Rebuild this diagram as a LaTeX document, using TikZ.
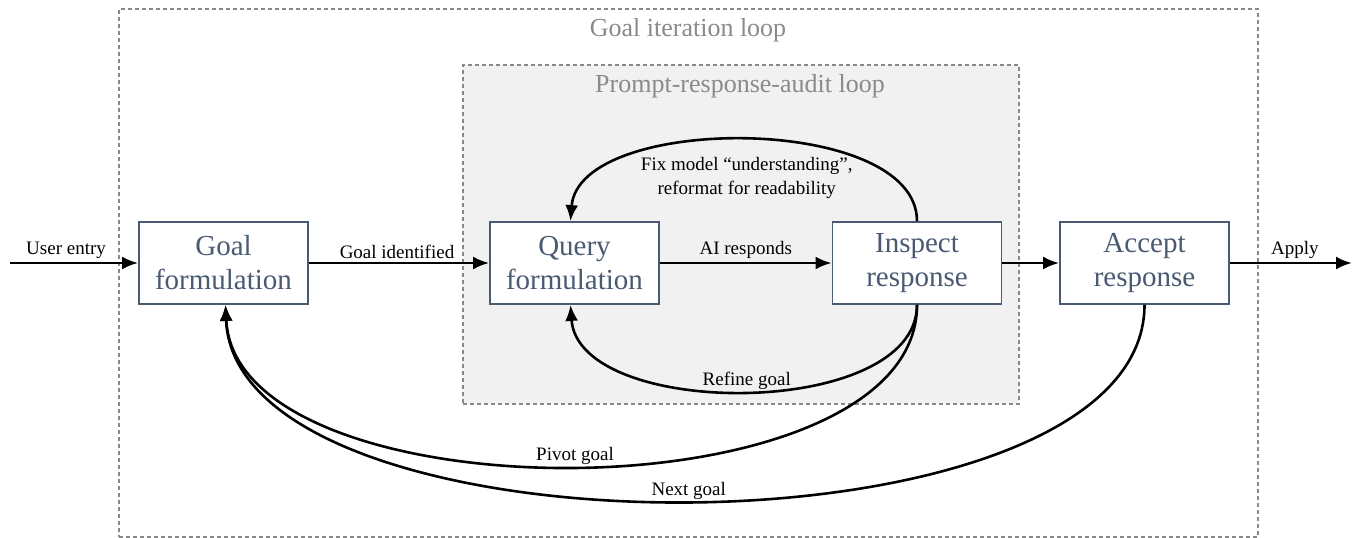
\documentclass[tikz,border=0pt]{standalone}
\usepackage{fontspec}
\setmainfont{Liberation Serif}
\usetikzlibrary{arrows.meta}
\definecolor{nodeblue}{HTML}{4A5A73}
\definecolor{titlegray}{HTML}{8A8A8A}
\definecolor{dashgray}{HTML}{888888}
\definecolor{innerfill}{HTML}{F1F1F1}
\begin{document}
\begin{tikzpicture}[x=1pt,y=-1pt,
  stepbox/.style={draw=nodeblue, line width=1.8pt, text=nodeblue, fill=white,
    minimum width=169pt, minimum height=82pt, align=center, inner sep=2pt,
    font=\fontsize{29}{34}\selectfont},
  loopbox/.style={draw=dashgray, line width=1.6pt, dash pattern=on 4pt off 3pt},
  looptitle/.style={text=titlegray, font=\fontsize{26}{30}\selectfont},
  conn/.style={line width=2.6pt, -{Latex[length=16pt,width=13pt]}},
  lbl/.style={font=\fontsize{19}{24}\selectfont, text=black},
]
\useasboundingbox (0,0) rectangle (1353,538);
\node[loopbox, minimum width=1139pt, minimum height=528pt, anchor=north west] (outer) at (118,8) {};
\node[loopbox, fill=innerfill, minimum width=556pt, minimum height=339pt, anchor=north west] (inner) at (462,64) {};
\node[looptitle] (t1) at (688,30) {Goal iteration loop};
\node[looptitle] (t2) at (740,86) {Prompt-response-audit loop};

\node[stepbox] (goal) at (223.5,263) {Goal\\formulation};
\node[stepbox] (query) at (574.5,263) {Query\\formulation};
\node[stepbox] (insp) at (917,263) {Inspect\\response};
\node[stepbox] (acc) at (1144.5,263) {Accept\\response};

\coordinate (start) at (10,263);
\coordinate (stop) at (1352,263);

\draw[conn] (start) -- node[lbl, above, inner sep=3pt, xshift=-8pt] {User entry} (goal.west);
\draw[conn] (goal.east) -- node[lbl, above, inner sep=3pt, xshift=-2pt] {Goal identified} (query.west);
\draw[conn] (query.east) -- node[lbl, above, inner sep=3pt] {AI responds} (insp.west);
\draw[conn] (insp.east) -- (acc.west);
\draw[conn] (acc.east) -- node[lbl, above, inner sep=3pt, xshift=4pt] {Apply} (stop);

\draw[conn] (insp.north) .. controls +(0,-108) and +(8,-108) .. node[lbl, pos=0.5, below=13pt, align=center] {Fix model “understanding”,\\reformat for readability} ([xshift=-4pt]query.north);
\draw[conn] (insp.south) .. controls +(0,115) and +(8,115) .. node[lbl, pos=0.5, above, inner sep=0pt] {Refine goal} ([xshift=-4pt]query.south);
\draw[conn] (insp.south) .. controls +(0,215) and +(10,215) .. node[lbl, pos=0.5, above, inner sep=0pt] {Pivot goal} ([xshift=2pt]goal.south);
\draw[conn] (acc.south) .. controls +(0,261) and +(10,261) .. node[lbl, pos=0.5, above, inner sep=0pt] {Next goal} ([xshift=2pt]goal.south);
\end{tikzpicture}
\end{document}
